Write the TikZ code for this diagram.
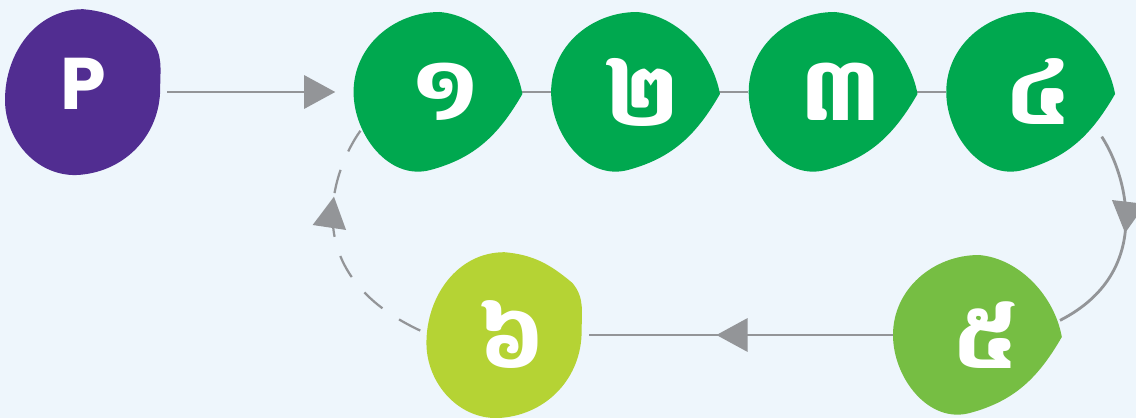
\documentclass[tikz,border=0pt]{standalone}
\usepackage{fontspec}
\newfontfamily\khmerfont[Script=Khmer]{Battambang}
\newfontfamily\startfont{Poppins}
\usetikzlibrary{positioning,arrows.meta,decorations.markings,backgrounds}
\definecolor{bgblue}{HTML}{EEF6FC}
\definecolor{plum}{HTML}{512D91}
\definecolor{leaf}{HTML}{00A84F}
\definecolor{lime}{HTML}{76BE43}
\definecolor{pear}{HTML}{B5D334}
\definecolor{wire}{HTML}{939598}

\begin{document}
\begin{tikzpicture}[
    blob/.style={circle, minimum size=4.2cm, inner sep=0pt, text=white},
    digit/.style={blob, font=\khmerfont\bfseries\fontsize{62}{62}\selectfont,
        execute at begin node=\hspace*{0.4cm}},
    start/.style={blob, text depth=0.4cm, font=\startfont\bfseries\fontsize{52}{52}\selectfont},
    link/.style={color=wire, line width=2pt},
    dashes/.style={line width=1.6pt, dash pattern=on 0.6cm off 0.5cm},
    tip/.style={-{Triangle[length=0.78cm, width=0.83cm]}},
    midtip/.style={postaction={decorate}, decoration={markings,
        mark=at position #1 with {\arrow{Triangle[length=0.78cm, width=0.83cm]}}}},
    pebble/.pic={\fill[#1] (-2.1,0) to[out=90, in=180] (0.05,2.0)
        to[out=-5, in=100, looseness=0.9] (2.12,-0.05)
        to[out=-120, in=15] (-0.18,-1.95)
        to[out=195, in=-90] cycle;},
    drop/.pic={\fill[#1] (-1.95,-0.2) to[out=90, in=180] (0,2.07)
        to[out=-5, in=140] (1.7,1.3)
        to[out=-50, in=90] (1.93,0.1)
        to[out=-90, in=5] (-0.07,-2.07)
        to[out=185, in=-90] cycle;}
]
\useasboundingbox (0,0) rectangle (28.4,10.45);

% Top row
\node[start] (n0) at (2.075,8.15) {P};
\node[digit, right=4.65cm of n0] (n1) {១};
\node[digit, right=0.725cm of n1] (n2) {២};
\node[digit, right=0.725cm of n2] (n3) {៣};
\node[digit, right=0.725cm of n3] (n4) {៤};

% Bottom row
\node[digit] (n5) at (24.425,2.075) {៥};
\node[digit, left=7.6cm of n5] (n6) {៦};

\begin{scope}[on background layer]
\fill[bgblue] (0,0) rectangle (28.4,10.45);

% Connectors
\draw[link, tip, shorten >=0.45cm] (n0) -- (n1);
\draw[link] (n1) -- (n2);
\draw[link] (n2) -- (n3);
\draw[link] (n3) -- (n4);
\draw[link, midtip=0.47] (n4.-32) to[out=-57, in=27, out looseness=0.63, in looseness=1.44] (n5.10);
\draw[link, midtip=0.58] (n5) -- (n6);
\draw[link, dashes, midtip=0.7] (n6.177) to[out=155, in=232, out looseness=1.83, in looseness=0.39] (n1.206);

% Blobs
\pic at (n0) {drop=plum};
\pic at (n1) {pebble=leaf};
\pic at (n2) {pebble=leaf};
\pic at (n3) {pebble=leaf};
\pic at (n4) {pebble=leaf};
\pic at (n5) {pebble=lime};
\pic at (n6) {drop=pear};
\end{scope}
\end{tikzpicture}
\end{document}
